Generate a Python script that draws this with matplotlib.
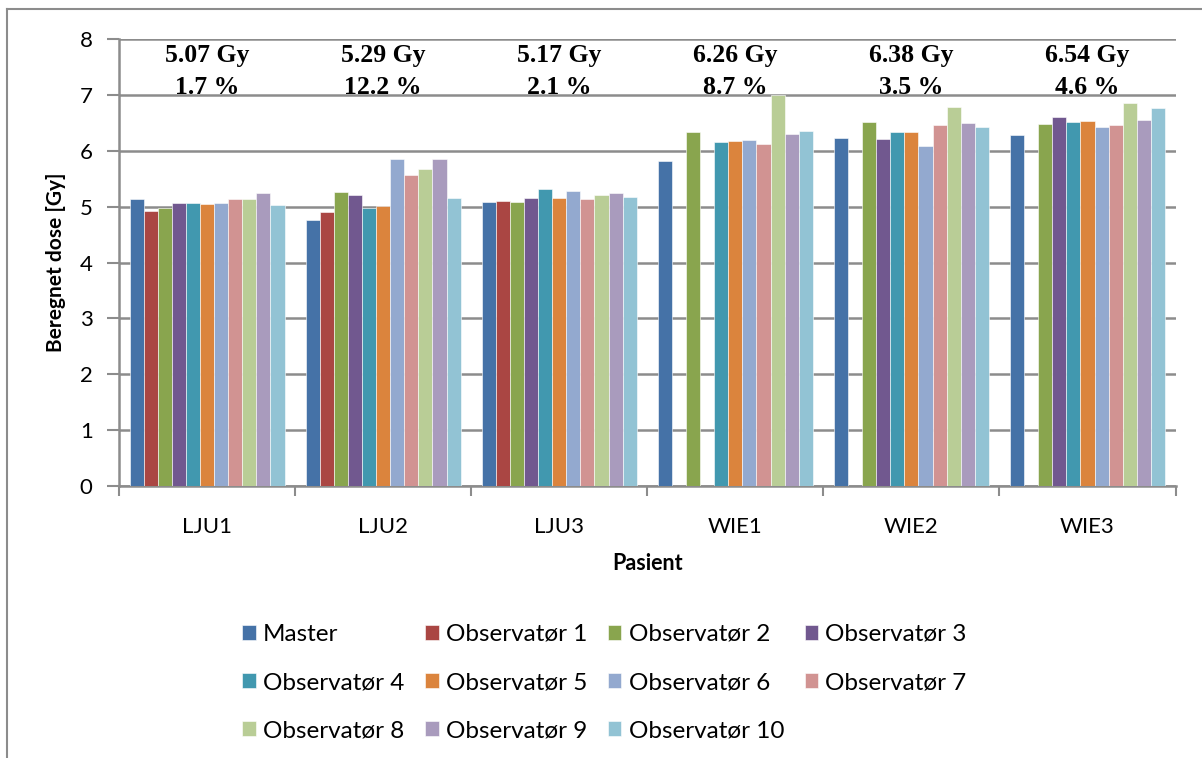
import numpy as np
import matplotlib
matplotlib.use('Agg')
from matplotlib import pyplot as plt
from matplotlib.lines import Line2D

plt.rcParams['font.family'] = ['Lato', 'DejaVu Sans']

pasienter = ['LJU1', 'LJU2', 'LJU3', 'WIE1', 'WIE2', 'WIE3']
serier = ['Master'] + ['Observatør %d' % i for i in range(1, 11)]

# dose per serie, one value per patient (nan = no contour)
master = [5.13, 4.77, 5.08, 5.82, 6.22, 6.28]
obs1 = [4.92, 4.90, 5.10, np.nan, np.nan, np.nan]
obs2 = [4.97, 5.27, 5.08, 6.33, 6.51, 6.48]
obs3 = [5.06, 5.20, 5.15, np.nan, 6.21, 6.60]
obs4 = [5.07, 4.98, 5.32, 6.15, 6.33, 6.51]
obs5 = [5.04, 5.02, 5.16, 6.17, 6.33, 6.54]
obs6 = [5.07, 5.86, 5.28, 6.20, 6.08, 6.43]
obs7 = [5.14, 5.56, 5.13, 6.13, 6.46, 6.47]
obs8 = [5.14, 5.68, 5.21, 6.99, 6.79, 6.85]
obs9 = [5.25, 5.86, 5.25, 6.30, 6.49, 6.55]
obs10 = [5.03, 5.15, 5.17, 6.36, 6.42, 6.77]

snitt = ['5.07 Gy', '5.29 Gy', '5.17 Gy', '6.26 Gy', '6.38 Gy', '6.54 Gy']
avvik = ['1.7 %', '12.2 %', '2.1 %', '8.7 %', '3.5 %', '4.6 %']

farger = ['#4572A7', '#AA4643', '#89A54E', '#71588F', '#4198AF', '#DB843D',
          '#93A9CF', '#D19392', '#B9CD96', '#A99BBD', '#92C3D4']

data = [master, obs1, obs2, obs3, obs4, obs5, obs6, obs7, obs8, obs9, obs10]

fig = plt.figure(figsize=(12.02, 7.58), dpi=100)
ax = fig.add_axes([0.099, 0.3588, 0.879, 0.5897])

grey = '#8c8c8c'
x = np.arange(len(pasienter))
w = 1 / 12.5
handles = []
for k, (navn, vals) in enumerate(zip(serier, data)):
    b = ax.bar(x + (k - 5) * w, vals, w, color=farger[k], label=navn,
               edgecolor='white', linewidth=0.4, zorder=3)
    handles.append(b)

ax.set_ylim(0, 8)
ax.set_xlim(-0.5, 5.5)
ax.set_yticks(range(9))
ax.yaxis.grid(True, color=grey, linewidth=1.8, zorder=0)
ax.set_axisbelow(True)
ax.set_xticks(x)
ax.set_xticklabels(pasienter)
ax.set_xticks(np.arange(-0.5, 6, 1), minor=True)
ax.tick_params(axis='x', which='major', length=0, pad=22, labelsize=16)
ax.tick_params(axis='x', which='minor', length=7, width=1.5, color=grey)
ax.tick_params(axis='y', length=9, width=1.5, color=grey, labelsize=16, pad=10)
for s in ['top', 'right']:
    ax.spines[s].set_visible(False)
for s in ['left', 'bottom']:
    ax.spines[s].set_color(grey)
    ax.spines[s].set_linewidth(1.8)

ax.set_ylabel('Beregnet dose [Gy]', fontsize=15, fontweight='bold', labelpad=10)
ax.set_xlabel('Pasient', fontsize=15.5, fontweight='bold', labelpad=12)

for i in range(len(pasienter)):
    ax.text(x[i], 7.71, snitt[i], ha='center', va='center', fontsize=18.5,
            fontweight='bold', family='Liberation Serif', zorder=5)
    ax.text(x[i], 7.14, avvik[i], ha='center', va='center', fontsize=18.5,
            fontweight='bold', family='Liberation Serif', zorder=5)

# legend filled row by row
rekke = [0, 4, 8, 1, 5, 9, 2, 6, 10, 3, 7]
leg = fig.legend([handles[i] for i in rekke], [serier[i] for i in rekke],
                 ncol=4, loc='center', bbox_to_anchor=(0.503, 0.0996),
                 frameon=False, fontsize=17.5, handlelength=0.55,
                 handleheight=0.55, handletextpad=0.3, columnspacing=0.85,
                 labelspacing=1.12)

# chart frame
fig.add_artist(Line2D([0.0058, 1.0], [0.988, 0.988], color=grey, lw=1.5))
fig.add_artist(Line2D([0.0058, 0.0058], [0.0, 0.988], color=grey, lw=1.5))

fig.savefig('out.png', dpi=100)
